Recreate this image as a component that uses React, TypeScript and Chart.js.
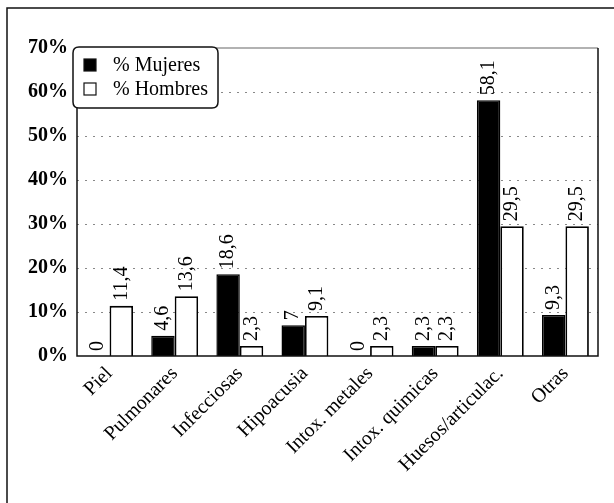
import React, { useEffect, useRef } from "react";
import { Chart, registerables } from "chart.js";

Chart.register(...registerables);

const categories = [
  "Piel",
  "Pulmonares",
  "Infecciosas",
  "Hipoacusia",
  "Intox. metales",
  "Intox. quimicas",
  "Huesos/articulac.",
  "Otras",
];
const mujeres = [0, 4.6, 18.6, 7, 0, 2.3, 58.1, 9.3];
const hombres = [11.4, 13.6, 2.3, 9.1, 2.3, 2.3, 29.5, 29.5];
const seriesNames = ["% Mujeres", "% Hombres"];
const yTicks = [0, 10, 20, 30, 40, 50, 60, 70];

const FONT = "'Liberation Serif', 'Times New Roman', serif";

const fmt = (v: number) => String(v).replace(".", ",");

const decorPlugin = {
  id: "decor",
  beforeDraw(chart: any) {
    const ctx = chart.ctx;
    ctx.save();
    ctx.fillStyle = "#fff";
    ctx.fillRect(0, 0, chart.width, chart.height);
    ctx.strokeStyle = "#111";
    ctx.lineWidth = 1.5;
    ctx.strokeRect(7, 8, chart.width + 20, chart.height + 20);
    ctx.restore();
  },
  beforeDatasetsDraw(chart: any) {
    const ctx = chart.ctx;
    const y = chart.scales.y;
    const a = chart.chartArea;
    ctx.save();
    ctx.strokeStyle = "#888";
    ctx.lineWidth = 1;
    ctx.setLineDash([2, 6]);
    yTicks.forEach((t) => {
      if (t === 0 || t === 70) return;
      const py = Math.round(y.getPixelForValue(t)) + 0.5;
      ctx.beginPath();
      ctx.moveTo(a.left, py);
      ctx.lineTo(a.right, py);
      ctx.stroke();
    });
    ctx.restore();
  },
  afterDatasetsDraw(chart: any) {
    const ctx = chart.ctx;
    const a = chart.chartArea;
    ctx.save();
    // data labels
    ctx.font = `20px ${FONT}`;
    ctx.fillStyle = "#000";
    ctx.textAlign = "left";
    ctx.textBaseline = "middle";
    chart.data.datasets.forEach((ds: any, di: number) => {
      const meta = chart.getDatasetMeta(di);
      meta.data.forEach((bar: any, i: number) => {
        const v = ds.data[i];
        ctx.save();
        ctx.translate(bar.x, bar.y - 5);
        ctx.rotate(-Math.PI / 2);
        ctx.fillText(fmt(v), 0, 0);
        ctx.restore();
      });
    });
    // frame
    ctx.strokeStyle = "#999";
    ctx.lineWidth = 1.5;
    ctx.beginPath();
    ctx.moveTo(a.left, a.top);
    ctx.lineTo(a.right, a.top);
    ctx.stroke();
    ctx.strokeStyle = "#111";
    ctx.lineWidth = 1.5;
    ctx.beginPath();
    ctx.moveTo(a.left, a.top);
    ctx.lineTo(a.left, a.bottom);
    ctx.lineTo(a.right, a.bottom);
    ctx.lineTo(a.right, a.top);
    ctx.stroke();
    // legend
    const lx = 73, ly = 47, lw = 145, lh = 61, r = 6;
    ctx.fillStyle = "#fff";
    ctx.strokeStyle = "#111";
    ctx.lineWidth = 1.5;
    ctx.beginPath();
    ctx.moveTo(lx + r, ly);
    ctx.lineTo(lx + lw - r, ly);
    ctx.quadraticCurveTo(lx + lw, ly, lx + lw, ly + r);
    ctx.lineTo(lx + lw, ly + lh - r);
    ctx.quadraticCurveTo(lx + lw, ly + lh, lx + lw - r, ly + lh);
    ctx.lineTo(lx + r, ly + lh);
    ctx.quadraticCurveTo(lx, ly + lh, lx, ly + lh - r);
    ctx.lineTo(lx, ly + r);
    ctx.quadraticCurveTo(lx, ly, lx + r, ly);
    ctx.closePath();
    ctx.fill();
    ctx.stroke();
    ctx.font = `20px ${FONT}`;
    ctx.textAlign = "left";
    ctx.textBaseline = "alphabetic";
    chart.data.datasets.forEach((ds: any, di: number) => {
      const rowY = ly + 24 + di * 24;
      ctx.fillStyle = ds.backgroundColor;
      ctx.fillRect(lx + 11, rowY - 12, 12, 12);
      ctx.strokeStyle = "#111";
      ctx.lineWidth = 1.2;
      ctx.strokeRect(lx + 11, rowY - 12, 12, 12);
      ctx.fillStyle = "#000";
      ctx.fillText(ds.label, lx + 40, rowY);
    });
    ctx.restore();
  },
};

export default function App() {
  const ref = useRef<HTMLCanvasElement | null>(null);
  useEffect(() => {
    document.body.style.margin = "0";
    if (!ref.current) return;
    const chart = new Chart(ref.current, {
      type: "bar",
      data: {
        labels: categories,
        datasets: [
          {
            label: seriesNames[0],
            data: mujeres,
            backgroundColor: "#000",
            borderColor: "#000",
            borderWidth: 1.5,
            categoryPercentage: 0.72,
            barPercentage: 1.0,
          },
          {
            label: seriesNames[1],
            data: hombres,
            backgroundColor: "#fff",
            borderColor: "#000",
            borderWidth: 1.8,
            categoryPercentage: 0.72,
            barPercentage: 1.0,
          },
        ],
      },
      options: {
        responsive: false,
        animation: false,
        layout: { padding: { left: 0, top: 48, right: 16, bottom: 0 } },
        plugins: {
          legend: { display: false },
          tooltip: { enabled: false },
        },
        scales: {
          x: {
            grid: { display: false, drawTicks: false },
            border: { display: false },
            ticks: {
              color: "#000",
              font: { family: FONT, size: 20 },
              minRotation: 45,
              maxRotation: 45,
              autoSkip: false,
              padding: 6,
            },
            afterFit: (s: any) => {
              s.height = 147;
            },
          },
          y: {
            min: 0,
            max: 70,
            grid: { display: false, drawTicks: false },
            border: { display: false },
            afterBuildTicks: (s: any) => {
              s.ticks = yTicks.map((v) => ({ value: v }));
            },
            ticks: {
              color: "#000",
              font: { family: FONT, size: 20, weight: "bold" },
              padding: 9,
              callback: (v: any) => `${v}%`,
            },
            afterFit: (s: any) => {
              s.width = 77;
            },
          },
        },
      },
      plugins: [decorPlugin],
    });
    return () => chart.destroy();
  }, []);
  return (
    <div style={{ width: 614, height: 503 }}>
      <canvas ref={ref} width={614} height={503} />
    </div>
  );
}
